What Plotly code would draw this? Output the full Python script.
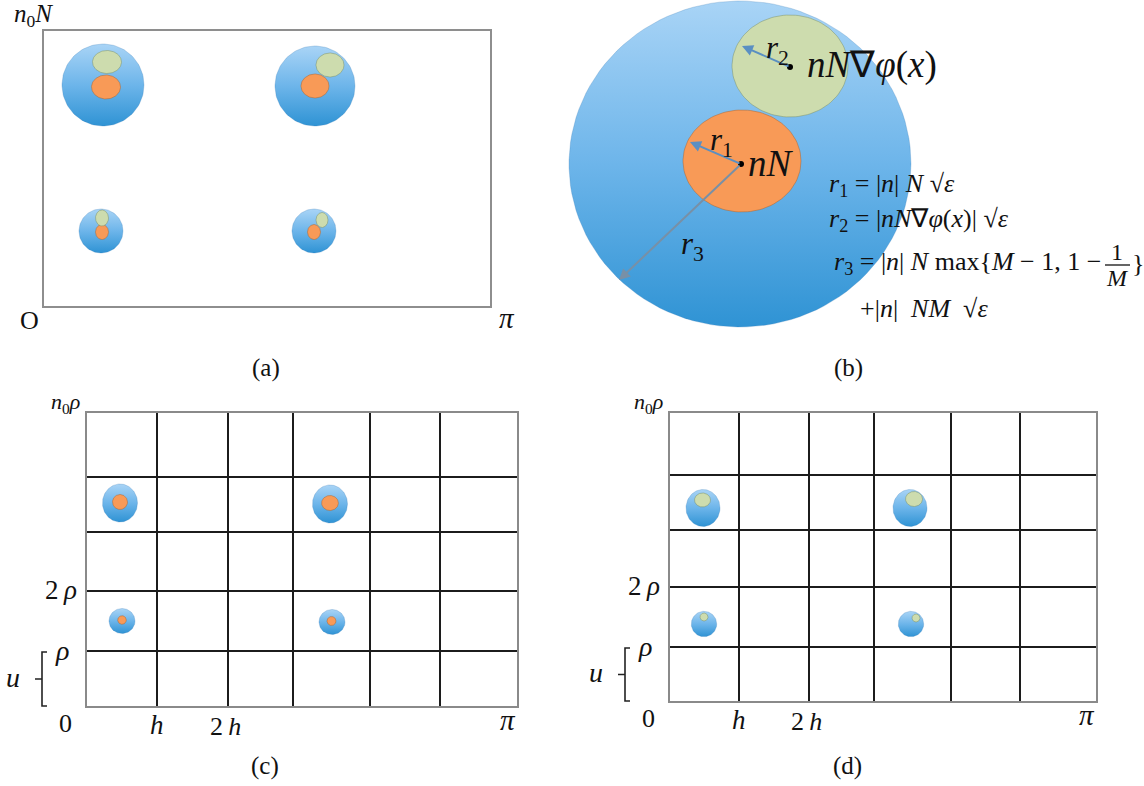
import numpy as np
import plotly.graph_objects as go

W, H = 1144, 786
SERIF = "Liberation Serif, Times New Roman, serif"
INK = "#111111"
THIN = "\u2009"

# Every panel owns an axis pair.  Units are canvas pixels measured from the
# panel's reference point (lower-left frame corner, or the centre of the big
# ball in panel (b)), with y pointing up.
PANEL_ORIGIN = {"a": (43, 307), "b": (740, 164), "c": (86, 707), "d": (669, 702)}
AXES = {"a": ("x", "y"), "b": ("x2", "y2"), "c": ("x3", "y3"), "d": ("x4", "y4")}

# ---------------- panel (a): balls in the (x, n0 N) rectangle ----------------
a_frame = (448, 277)
a_ball_x = [60, 272, 58, 271]
a_ball_y = [222, 221, 76, 76]
a_ball_r = [41, 40, 22, 22]
a_core_x = [63, 272, 59, 271]          # nN
a_core_y = [220, 221, 75, 75]
a_core_rx = [14.5, 14, 6.5, 6.5]
a_core_ry = [12, 12, 7.5, 7.5]
a_grad_x = [64, 287, 59, 279]          # nN grad phi
a_grad_y = [245, 242, 89, 87]
a_grad_rx = [14.5, 14, 6.5, 6]
a_grad_ry = [11.5, 12, 8, 7.5]

# ---------------- panel (b): one ball in detail ----------------
b_ball = (0, 0, 171, 163)
b_core = (2, 3, 59, 51)
b_grad = (50, 98, 58, 51)
b_core_dot = (1, 0)
b_grad_dot = (50, 97)
b_r1_tip = (-50, 22)
b_r2_tip = (2, 118)
b_r3_tip = (-121, -116)

# ---------------- panel (c): grid with nN balls ----------------
c_cols = [0, 71, 142, 207, 284, 354, 432]
c_rows = [0, 56, 116, 175, 230, 295]
c_ball_x = [34, 244, 36, 246]
c_ball_y = [204, 203, 86, 85]
c_ball_rx = [17.5, 17.5, 13, 13]
c_ball_ry = [19, 19, 12.5, 12.5]
c_core_x = [34, 244, 36, 245.5]
c_core_y = [205, 204, 87, 86]
c_core_rx = [7.5, 8.4, 4.3, 4.5]
c_core_ry = [7.5, 7.5, 4.3, 4.5]

# ---------------- panel (d): grid with nN grad phi balls ----------------
d_cols = [0, 70, 140, 205, 282, 351, 428]
d_rows = [0, 55, 115, 172, 227, 290]
d_ball_x = [34, 241, 35, 242]
d_ball_y = [194, 194, 78, 78]
d_ball_rx = [17, 17, 12.7, 12.7]
d_ball_ry = [18.5, 18.5, 12.7, 12.7]
d_grad_x = [33.5, 245, 35, 247]
d_grad_y = [202, 203, 85, 84]
d_grad_rx = [8, 8.5, 4, 4]
d_grad_ry = [7, 7.5, 4, 4]

grid_xlabels = ["0", "<i>h</i>", "2" + THIN + "<i>h</i>", "<i>π</i>"]
grid_ylabels = ["<i>ρ</i>", "2" + THIN + "<i>ρ</i>", "<i>n</i><sub>0</sub><i>ρ</i>"]

BLUE = [[0.0, "#2f93d4"], [0.5, "#6db5ea"], [1.0, "#a9d4f6"]]
ORANGE = "#f89a57"
GREEN = "#cddcae"

fig = go.Figure()
shapes, annotations = [], []


def ellipse(cx, cy, rx, ry, n=120):
    t = np.linspace(0, 2 * np.pi, n)
    return cx + rx * np.cos(t), cy + ry * np.sin(t)


def ball(panel, cx, cy, rx, ry):
    xa, ya = AXES[panel]
    x, y = ellipse(cx, cy, rx, ry)
    fig.add_trace(go.Scatter(
        x=x, y=y, mode="lines", fill="toself",
        line=dict(color="rgba(50,120,180,0.25)", width=1),
        fillgradient=dict(type="vertical", colorscale=BLUE, start=cy - ry, stop=cy + ry),
        xaxis=xa, yaxis=ya, hoverinfo="skip", showlegend=False))


def disc(panel, cx, cy, rx, ry, color, edge):
    xa, ya = AXES[panel]
    x, y = ellipse(cx, cy, rx, ry)
    fig.add_trace(go.Scatter(
        x=x, y=y, mode="lines", fill="toself", fillcolor=color,
        line=dict(color=edge, width=1),
        xaxis=xa, yaxis=ya, hoverinfo="skip", showlegend=False))


def label(panel, x, y, text, size=20, xanchor="center", yanchor="middle"):
    xa, ya = AXES[panel]
    annotations.append(dict(
        x=x, y=y, xref=xa, yref=ya, text=text, showarrow=False,
        xanchor=xanchor, yanchor=yanchor,
        font=dict(family=SERIF, size=size, color=INK)))


def line(panel, x0, y0, x1, y1, color, width):
    xa, ya = AXES[panel]
    shapes.append(dict(type="line", xref=xa, yref=ya, x0=x0, y0=y0, x1=x1, y1=y1,
                       line=dict(color=color, width=width), layer="below"))


ORANGE_EDGE = "rgba(170,95,40,0.45)"
GREEN_EDGE = "rgba(120,140,95,0.45)"

# ---- (a)
fw, fh = a_frame
xa, ya = AXES["a"]
shapes.append(dict(type="rect", xref=xa, yref=ya, x0=0, y0=0, x1=fw, y1=fh,
                   line=dict(color="#8e8e8e", width=2), layer="below"))
for i in range(4):
    ball("a", a_ball_x[i], a_ball_y[i], a_ball_r[i], a_ball_r[i])
    disc("a", a_core_x[i], a_core_y[i], a_core_rx[i], a_core_ry[i], ORANGE, ORANGE_EDGE)
    disc("a", a_grad_x[i], a_grad_y[i], a_grad_rx[i], a_grad_ry[i], GREEN, GREEN_EDGE)
label("a", -10, fh + 15, "<i>n</i><sub>0</sub><i>N</i>", size=25)
label("a", -14, -13, "O", size=26)
label("a", fw + 16, -11, "<i>π</i>", size=29)
label("a", 223, -61, "(a)", size=25)

# ---- (b)
ball("b", *b_ball)
disc("b", *b_grad, GREEN, GREEN_EDGE)
disc("b", *b_core, ORANGE, ORANGE_EDGE)
xb, yb = AXES["b"]
fig.add_trace(go.Scatter(x=[b_core_dot[0], b_grad_dot[0]], y=[b_core_dot[1], b_grad_dot[1]],
                         mode="markers", marker=dict(color="black", size=6),
                         xaxis=xb, yaxis=yb, hoverinfo="skip", showlegend=False))
for tip, tail, col in [(b_r2_tip, b_grad_dot, "#5a8fc2"),
                       (b_r1_tip, b_core_dot, "#5a8fc2"),
                       (b_r3_tip, b_core_dot, "#7890a6")]:
    annotations.append(dict(x=tip[0], y=tip[1], ax=tail[0], ay=tail[1],
                            xref=xb, yref=yb, axref=xb, ayref=yb, text="",
                            showarrow=True, arrowhead=2, arrowsize=1.1,
                            arrowwidth=2, arrowcolor=col))
label("b", 37, 114, "<i>r</i><sub>2</sub>", size=31)
label("b", 65, 99, "<i>nN</i>∇<i>φ</i>(<i>x</i>)", size=37, xanchor="left")
label("b", -19, 22, "<i>r</i><sub>1</sub>", size=31)
label("b", 6, 1, "<i>nN</i>", size=37, xanchor="left")
label("b", -48, -82, "<i>r</i><sub>3</sub>", size=31)
label("b", 87, -21, "<i>r</i><sub>1</sub> = |<i>n</i>| <i>N</i> √<i>ε</i>", size=26, xanchor="left")
label("b", 87, -56, "<i>r</i><sub>2</sub> = |<i>nN</i>∇<i>φ</i>(<i>x</i>)| √<i>ε</i>", size=26, xanchor="left")
label("b", 363, -99, "<i>r</i><sub>3</sub> = |<i>n</i>| <i>N</i> max{<i>M</i> − 1, 1 −", size=26, xanchor="right")
label("b", 377, -88, "1", size=24)
line("b", 365, -101, 390, -101, INK, 1.3)
label("b", 377, -114, "<i>M</i>", size=24)
label("b", 398, -99, "}", size=26)
label("b", 118, -144, "+|<i>n</i>|  <i>NM</i>  √<i>ε</i>", size=26, xanchor="left")
label("b", 108, -204, "(b)", size=25)


def grid_panel(panel, cols, rows, bx, by, brx, bry, ix, iy, irx, iry, inner_color, inner_edge, cap):
    xa, ya = AXES[panel]
    w, h = cols[-1], rows[-1]
    for c in cols[1:-1]:
        line(panel, c, 0, c, h, "#1c1c1c", 2)
    for r in rows[1:-1]:
        line(panel, 0, r, w, r, "#1c1c1c", 2)
    shapes.append(dict(type="rect", xref=xa, yref=ya, x0=0, y0=0, x1=w, y1=h,
                       line=dict(color="#8a8a8a", width=2), layer="below"))
    for i in range(len(bx)):
        ball(panel, bx[i], by[i], brx[i], bry[i])
        disc(panel, ix[i], iy[i], irx[i], iry[i], inner_color, inner_edge)
    # axis labels
    label(panel, -21, -16, grid_xlabels[0], size=26)
    label(panel, cols[1], -18, grid_xlabels[1], size=27)
    label(panel, cols[2] - 3, -19, grid_xlabels[2], size=26)
    label(panel, w - 10, -13, grid_xlabels[3], size=29)
    label(panel, -24, rows[1] + 1, grid_ylabels[0], size=28)
    label(panel, -25, rows[2] + 1, grid_ylabels[1], size=27)
    label(panel, -21, h + 9, grid_ylabels[2], size=22)
    # brace marking one cell height u
    bxp = -44
    path = (f"M {bxp + 5},{rows[1] - 1} L {bxp},{rows[1] - 1} L {bxp},{1} L {bxp + 5},{1} "
            f"M {bxp},{rows[1] / 2} L {bxp - 7},{rows[1] / 2}")
    shapes.append(dict(type="path", xref=xa, yref=ya, path=path,
                       line=dict(color="#222222", width=1.6)))
    label(panel, -73, rows[1] / 2 + 2, "<i>u</i>", size=28)
    label(panel, cap[0], cap[1], cap[2], size=25)


grid_panel("c", c_cols, c_rows, c_ball_x, c_ball_y, c_ball_rx, c_ball_ry,
           c_core_x, c_core_y, c_core_rx, c_core_ry, ORANGE, ORANGE_EDGE, (179, -59, "(c)"))
grid_panel("d", d_cols, d_rows, d_ball_x, d_ball_y, d_ball_rx, d_ball_ry,
           d_grad_x, d_grad_y, d_grad_rx, d_grad_ry, GREEN, GREEN_EDGE, (178, -64, "(d)"))

layout_axes = {}
for i, p in enumerate(["a", "b", "c", "d"]):
    ox, oy = PANEL_ORIGIN[p]
    xa, ya = AXES[p]
    xkey = "xaxis" if xa == "x" else "xaxis" + xa[1:]
    ykey = "yaxis" if ya == "y" else "yaxis" + ya[1:]
    xcfg = dict(range=[-ox, W - ox], domain=[0, 1], visible=False, fixedrange=True, anchor=ya)
    ycfg = dict(range=[-(H - oy), oy], domain=[0, 1], visible=False, fixedrange=True, anchor=xa)
    if i > 0:
        xcfg["overlaying"] = "x"
        ycfg["overlaying"] = "y"
    layout_axes[xkey] = xcfg
    layout_axes[ykey] = ycfg

fig.update_layout(
    width=W, height=H, margin=dict(l=0, r=0, t=0, b=0),
    paper_bgcolor="white", plot_bgcolor="rgba(0,0,0,0)",
    font=dict(family=SERIF, color=INK),
    shapes=shapes, annotations=annotations, showlegend=False,
    **layout_axes)

fig.write_html("out.html", config={"displayModeBar": False})
